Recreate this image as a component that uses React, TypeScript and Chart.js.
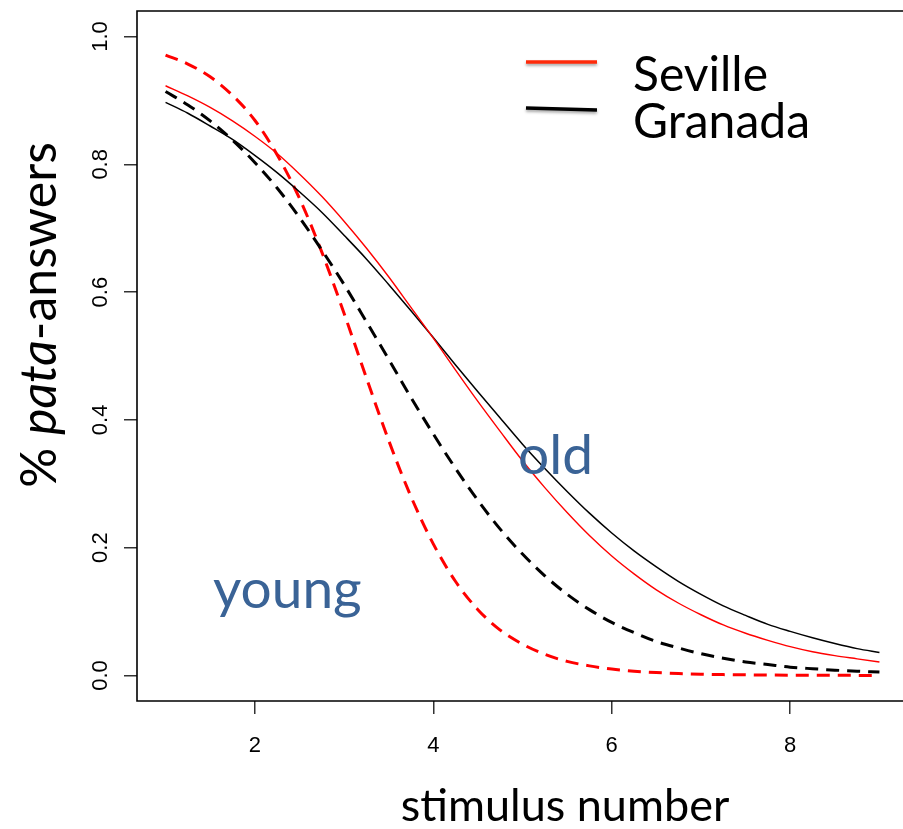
import React, { useEffect, useRef } from "react";
import { Chart, registerables } from "chart.js";

Chart.register(...registerables);

// Stimulus steps along the continuum (quarter steps for smooth curves)
const stimulus = [
  1, 1.25, 1.5, 1.75, 2, 2.25, 2.5, 2.75, 3, 3.25, 3.5, 3.75, 4, 4.25, 4.5, 4.75, 5,
  5.25, 5.5, 5.75, 6, 6.25, 6.5, 6.75, 7, 7.25, 7.5, 7.75, 8, 8.25, 8.5, 8.75, 9,
];

// Proportion of "pata" answers per group
const sevilleOld = [
  0.923, 0.907, 0.889, 0.868, 0.844, 0.817, 0.785, 0.750, 0.711, 0.669, 0.624, 0.576, 0.528,
  0.478, 0.429, 0.382, 0.336, 0.294, 0.255, 0.219, 0.187, 0.159, 0.134, 0.113, 0.095, 0.079,
  0.066, 0.055, 0.045, 0.037, 0.031, 0.026, 0.021,
];
const granadaOld = [
  0.897, 0.880, 0.860, 0.839, 0.814, 0.787, 0.757, 0.725, 0.689, 0.652, 0.612, 0.571, 0.529,
  0.486, 0.444, 0.403, 0.362, 0.324, 0.288, 0.254, 0.223, 0.195, 0.170, 0.147, 0.127, 0.109,
  0.094, 0.080, 0.069, 0.059, 0.050, 0.042, 0.036,
];
const sevilleYoung = [
  0.971, 0.957, 0.937, 0.908, 0.869, 0.815, 0.747, 0.663, 0.567, 0.466, 0.368, 0.280, 0.206,
  0.147, 0.103, 0.071, 0.049, 0.033, 0.022, 0.015, 0.010, 0.0067, 0.0045, 0.003, 0.002, 0.0013,
  0.0009, 0.0006, 0.0004, 0.0003, 0.0002, 0.0001, 0.0001,
];
const granadaYoung = [
  0.914, 0.893, 0.868, 0.838, 0.803, 0.763, 0.717, 0.666, 0.612, 0.554, 0.495, 0.435, 0.378,
  0.324, 0.274, 0.229, 0.190, 0.156, 0.127, 0.103, 0.083, 0.067, 0.053, 0.043, 0.034, 0.027,
  0.021, 0.017, 0.013, 0.0105, 0.0083, 0.0066, 0.0052,
];

const xTicks = [2, 4, 6, 8];
const yTicks = [0, 0.2, 0.4, 0.6, 0.8, 1.0];
const yTickLabels = ["0.0", "0.2", "0.4", "0.6", "0.8", "1.0"];
const legendLabels = ["Seville", "Granada"];

const RED = "#ff0000";
const BLACK = "#000000";
const BLUE = "#3a6396";

const pts = (ys: number[]) => stimulus.map((x, i) => ({ x, y: ys[i] }));

const decorations = {
  id: "decorations",
  afterDraw(chart: any) {
    const { ctx, chartArea: a } = chart;
    const xs = chart.scales.x;
    const ys = chart.scales.y;
    ctx.save();

    // plot frame: left, top, bottom and right edges
    ctx.strokeStyle = "#000";
    ctx.lineWidth = 1.6;
    ctx.beginPath();
    ctx.moveTo(a.right, a.top);
    ctx.lineTo(a.left, a.top);
    ctx.lineTo(a.left, a.bottom);
    ctx.lineTo(a.right, a.bottom);
    ctx.lineTo(a.right, a.top);
    ctx.stroke();

    // tick labels
    ctx.fillStyle = "#000";
    ctx.font = '22px "Liberation Sans", Arial, sans-serif';
    ctx.textAlign = "center";
    ctx.textBaseline = "alphabetic";
    xTicks.forEach((v) => {
      ctx.fillText(String(v), xs.getPixelForValue(v), a.bottom + 51);
    });
    yTicks.forEach((v, i) => {
      ctx.save();
      ctx.translate(a.left - 30, ys.getPixelForValue(v));
      ctx.rotate(-Math.PI / 2);
      ctx.fillText(yTickLabels[i], 0, 0);
      ctx.restore();
    });

    // axis titles
    ctx.fillStyle = "#000";
    ctx.font = '45px Lato, sans-serif';
    ctx.textAlign = "center";
    ctx.fillText("stimulus number", 565, 821);

    const parts = [
      { t: "% ", f: '50px Lato, sans-serif' },
      { t: "pata", f: 'italic 50px Lato, sans-serif' },
      { t: "-answers", f: '50px Lato, sans-serif' },
    ];
    let total = 0;
    parts.forEach((p) => {
      ctx.font = p.f;
      total += ctx.measureText(p.t).width;
    });
    ctx.save();
    ctx.translate(56, 315);
    ctx.rotate(-Math.PI / 2);
    ctx.textAlign = "left";
    let cx = -total / 2;
    parts.forEach((p) => {
      ctx.font = p.f;
      ctx.fillText(p.t, cx, 0);
      cx += ctx.measureText(p.t).width;
    });
    ctx.restore();

    // legend
    const legendColors = ["#ff2a0a", "#000000"];
    const legendY = [62, 109];
    legendLabels.forEach((label, i) => {
      ctx.save();
      ctx.shadowColor = "rgba(0,0,0,0.35)";
      ctx.shadowBlur = 3;
      ctx.shadowOffsetY = 2;
      ctx.strokeStyle = legendColors[i];
      ctx.lineWidth = 3.5;
      ctx.beginPath();
      ctx.moveTo(526, legendY[i] - (i === 1 ? 1 : 0));
      ctx.lineTo(597, legendY[i] + (i === 1 ? 1 : 0));
      ctx.stroke();
      ctx.restore();
      ctx.fillStyle = "#000";
      ctx.font = '48px Lato, sans-serif';
      ctx.textAlign = "left";
      ctx.fillText(label, 633, legendY[i] + 29);
    });

    // group annotations
    ctx.fillStyle = BLUE;
    ctx.font = '55px Lato, sans-serif';
    ctx.textAlign = "left";
    ctx.fillText("old", 518, 474);
    ctx.fillText("young", 213, 608);

    ctx.restore();
  },
};

export default function App() {
  const ref = useRef<HTMLCanvasElement>(null);

  useEffect(() => {
    if (!ref.current) return;
    const chart = new Chart(ref.current, {
      type: "scatter",
      data: {
        datasets: [
          { label: "Seville old", data: pts(sevilleOld), borderColor: RED, borderWidth: 1.4 },
          { label: "Granada old", data: pts(granadaOld), borderColor: BLACK, borderWidth: 1.5 },
          { label: "Granada young", data: pts(granadaYoung), borderColor: BLACK, borderWidth: 3, borderDash: [13, 8] },
          { label: "Seville young", data: pts(sevilleYoung), borderColor: RED, borderWidth: 3, borderDash: [13, 8] },
        ].map((d) => ({
          ...d,
          showLine: true,
          pointRadius: 0,
          pointHoverRadius: 0,
          fill: false,
          cubicInterpolationMode: "monotone" as const,
        })),
      },
      options: {
        animation: false,
        responsive: false,
        devicePixelRatio: 1,
        events: [],
        layout: { padding: { left: 0, top: 11, right: 52, bottom: 0 } },
        plugins: { legend: { display: false }, tooltip: { enabled: false } },
        scales: {
          x: {
            type: "linear",
            min: 0.68,
            max: 9.32,
            afterBuildTicks: (s: any) => {
              s.ticks = xTicks.map((v) => ({ value: v }));
            },
            afterFit: (s: any) => {
              s.height = 128;
            },
            ticks: { display: false },
            border: { display: false },
            grid: { drawOnChartArea: false, drawTicks: true, tickLength: 13, color: "#333", lineWidth: 1.5 },
          },
          y: {
            type: "linear",
            min: -0.04,
            max: 1.04,
            afterBuildTicks: (s: any) => {
              s.ticks = yTicks.map((v) => ({ value: v }));
            },
            afterFit: (s: any) => {
              s.width = 137;
            },
            ticks: { display: false },
            border: { display: false },
            grid: { drawOnChartArea: false, drawTicks: true, tickLength: 13, color: "#333", lineWidth: 1.5 },
          },
        },
      },
      plugins: [decorations],
    });
    return () => chart.destroy();
  }, []);

  return (
    <div
      style={{
        position: "fixed",
        left: 0,
        top: 0,
        width: 903,
        height: 829,
        overflow: "hidden",
        background: "#fff",
      }}
    >
      <canvas ref={ref} width={960} height={829} style={{ display: "block" }} />
    </div>
  );
}
